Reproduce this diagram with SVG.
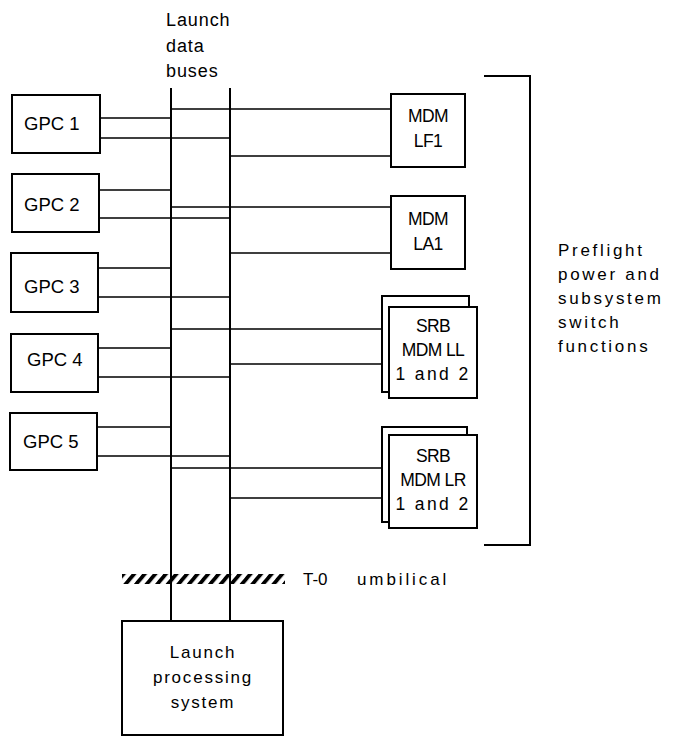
<svg xmlns="http://www.w3.org/2000/svg" width="679" height="737" viewBox="0 0 679 737">
<style>
text{font-family:"Liberation Sans",Arial,sans-serif;fill:#000}
.box{fill:#fff;stroke:#000;stroke-width:2}
.bus{stroke:#000;stroke-width:2;fill:none}
.ln{stroke:#000;stroke-width:1.6;fill:none}
.gpc{font-size:18.5px}
.mdm{font-size:17.5px;text-anchor:middle;letter-spacing:-0.6px}
.side{font-size:17px;letter-spacing:2.7px}
.lps{font-size:17px;text-anchor:middle;letter-spacing:1.8px}
.top{font-size:18px;letter-spacing:0.9px}
</style>
<defs>
<pattern id="hatch" width="8.1" height="8.1" patternUnits="userSpaceOnUse" patternTransform="rotate(40)">
<rect width="3.8" height="8.1" fill="#000"/>
</pattern>
</defs>
<rect width="679" height="737" fill="#fff"/>

<g id="bus-label">
<text class="top" x="166" y="26">Launch</text>
<text class="top" x="166" y="52">data</text>
<text class="top" x="166" y="77">buses</text>
</g>

<g id="umbilical">
<rect x="122" y="574" width="163" height="10" fill="url(#hatch)"/>
<text x="303" y="585" style="font-size:17px"><tspan>T-0</tspan><tspan x="357" style="letter-spacing:2.9px">umbilical</tspan></text>
</g>

<g id="connectors">
<path class="bus" d="M171,88V621M230,88V621"/>
<path class="ln" d="M100,118H172M100,138H231"/>
<path class="ln" d="M99,190H172M99,218H231"/>
<path class="ln" d="M98,268H172M98,297H231"/>
<path class="ln" d="M98,348H172M98,377H231"/>
<path class="ln" d="M97,427H172M97,456H231"/>
<path class="ln" d="M172,109H391M231,156H391"/>
<path class="ln" d="M172,207H391M231,253H391"/>
<path class="ln" d="M172,329H389M231,364H389"/>
<path class="ln" d="M172,468H389M231,498H389"/>
</g>

<g id="gpc1"><rect class="box" x="12" y="95" width="88" height="58"/><text class="gpc" x="24" y="130">GPC 1</text></g>
<g id="gpc2"><rect class="box" x="12" y="174" width="87" height="58"/><text class="gpc" x="24" y="211">GPC 2</text></g>
<g id="gpc3"><rect class="box" x="11" y="253" width="87" height="59"/><text class="gpc" x="24" y="293">GPC 3</text></g>
<g id="gpc4"><rect class="box" x="11" y="334" width="87" height="58"/><text class="gpc" x="27" y="366">GPC 4</text></g>
<g id="gpc5"><rect class="box" x="10" y="413" width="87" height="57"/><text class="gpc" x="23" y="448">GPC 5</text></g>

<g id="mdm-lf1"><rect class="box" x="391" y="94" width="74" height="73"/>
<text class="mdm" x="428" y="122">MDM</text><text class="mdm" x="428" y="147">LF1</text></g>
<g id="mdm-la1"><rect class="box" x="391" y="196" width="74" height="73"/>
<text class="mdm" x="428" y="225">MDM</text><text class="mdm" x="428" y="250">LA1</text></g>

<g id="srb-mdm-ll">
<rect class="box" x="382" y="296" width="87" height="96"/>
<rect class="box" x="389" y="307" width="88" height="91"/>
<text class="mdm" x="433" y="332">SRB</text>
<text class="mdm" x="433" y="356">MDM LL</text>
<text class="mdm" x="433" y="380" style="letter-spacing:2.4px">1 and 2</text>
</g>
<g id="srb-mdm-lr">
<rect class="box" x="382" y="427" width="85" height="95"/>
<rect class="box" x="389" y="435" width="88" height="93"/>
<text class="mdm" x="433" y="462">SRB</text>
<text class="mdm" x="433" y="486">MDM LR</text>
<text class="mdm" x="433" y="510" style="letter-spacing:2.4px">1 and 2</text>
</g>

<g id="preflight">
<path class="bus" d="M484,76H530V545H484"/>
<text class="side" x="558" y="256">Preflight</text>
<text class="side" x="558" y="280">power and</text>
<text class="side" x="558" y="304">subsystem</text>
<text class="side" x="558" y="328">switch</text>
<text class="side" x="558" y="352">functions</text>
</g>

<g id="lps">
<rect class="box" x="122" y="621" width="161" height="114"/>
<text class="lps" x="203" y="658">Launch</text>
<text class="lps" x="203" y="683">processing</text>
<text class="lps" x="203" y="708">system</text>
</g>
</svg>
